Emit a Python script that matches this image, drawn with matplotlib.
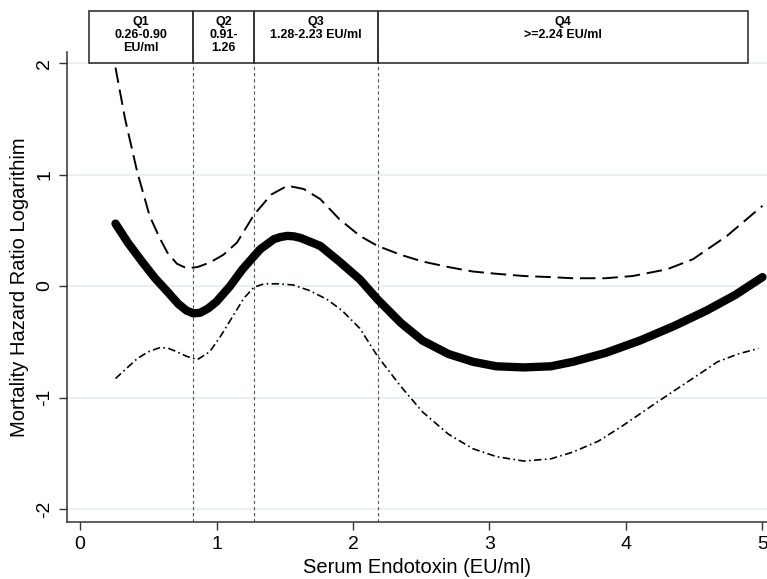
import matplotlib.pyplot as plt
from matplotlib.patches import Rectangle

# spline estimate and its confidence band
x_fit = [0.26, 0.35, 0.46, 0.55, 0.64, 0.72, 0.78, 0.83, 0.88, 0.94, 1.0, 1.1, 1.19, 1.32, 1.42, 1.47,
         1.52, 1.57, 1.62, 1.76, 1.9, 2.05, 2.18, 2.35, 2.51, 2.7, 2.88, 3.05, 3.25, 3.45, 3.61,
         3.85, 4.1, 4.35, 4.59, 4.8, 5.0]
y_fit = [0.56, 0.39, 0.21, 0.07, -0.05, -0.16, -0.22, -0.245, -0.24, -0.20, -0.14, 0.0, 0.15, 0.33, 0.42, 0.44,
         0.45, 0.445, 0.43, 0.36, 0.22, 0.06, -0.12, -0.33, -0.49, -0.61, -0.68, -0.72, -0.73, -0.72, -0.68,
         -0.60, -0.49, -0.36, -0.22, -0.08, 0.08]

x_upper = [0.26, 0.33, 0.42, 0.51, 0.58, 0.64, 0.71, 0.78, 0.86, 0.95, 1.05, 1.15, 1.275, 1.4, 1.52,
           1.64, 1.76, 1.9, 2.05, 2.18, 2.35, 2.51, 2.7, 2.88, 3.05, 3.25, 3.45, 3.61, 3.85, 4.05,
           4.3, 4.49, 4.74, 5.0]
y_upper = [1.96, 1.50, 1.02, 0.63, 0.44, 0.30, 0.20, 0.16, 0.17, 0.21, 0.28, 0.39, 0.64, 0.82, 0.90,
           0.87, 0.78, 0.60, 0.45, 0.36, 0.28, 0.22, 0.17, 0.13, 0.11, 0.09, 0.08, 0.07, 0.07, 0.09,
           0.15, 0.24, 0.45, 0.72]

x_lower = [0.26, 0.34, 0.42, 0.5, 0.59, 0.65, 0.71, 0.78, 0.86, 0.95, 1.03, 1.12, 1.2, 1.275, 1.35,
           1.45, 1.56, 1.68, 1.81, 1.92, 2.05, 2.18, 2.35, 2.51, 2.7, 2.88, 3.05, 3.25, 3.45, 3.61,
           3.8, 3.98, 4.17, 4.34, 4.5, 4.67, 4.82, 4.97]
y_lower = [-0.83, -0.74, -0.65, -0.59, -0.55, -0.56, -0.59, -0.63, -0.66, -0.59, -0.45, -0.27, -0.11, -0.01, 0.02,
           0.02, 0.01, -0.04, -0.12, -0.22, -0.38, -0.63, -0.90, -1.13, -1.33, -1.46, -1.53, -1.57, -1.55, -1.49,
           -1.39, -1.25, -1.09, -0.95, -0.82, -0.68, -0.61, -0.56]

# quartile cut points and header labels
cuts = [0.83, 1.275, 2.185]
q_edges = [0.066, 0.83, 1.275, 2.185, 4.894]
q_labels = ["Q1\n0.26-0.90\nEU/ml", "Q2\n0.91-\n1.26", "Q3\n1.28-2.23 EU/ml", "Q4\n>=2.24 EU/ml"]

x_ticks = [0, 1, 2, 3, 4, 5]
y_ticks = [-2, -1, 0, 1, 2]

plt.rcParams['font.family'] = ['Liberation Sans', 'DejaVu Sans']

fig = plt.figure(figsize=(7.67, 5.79), dpi=100)
ax = fig.add_axes([0.0874, 0.0984, 0.9126, 0.8117])
ax.set_xlim(-0.095, 5.033)
ax.set_ylim(-2.117, 2.099)

# light stata-like gridlines
for yt in y_ticks:
    ax.axhline(yt, color='#e6eef0', lw=1.2, zorder=0)

for c in cuts:
    ax.axvline(c, color='#555555', lw=0.8, dashes=(3, 2.5), zorder=1)

ax.plot(x_upper, y_upper, color='black', lw=1.4, dashes=(8, 3.5), zorder=3)
ax.plot(x_lower, y_lower, color='black', lw=1.2, dashes=(4.5, 2, 1, 2), zorder=3)
ax.plot(x_fit, y_fit, color='black', lw=6.0, solid_capstyle='round', solid_joinstyle='round', zorder=4)

# header boxes for the quartiles (sit above the plot area)
box_bot, box_top = 2.0, 2.466
for i in range(4):
    left, right = q_edges[i], q_edges[i + 1]
    ax.add_patch(Rectangle((left, box_bot), right - left, box_top - box_bot, fill=False,
                           edgecolor='#333333', lw=1.2, clip_on=False, zorder=5))
    ax.text((left + right) / 2, 2.42, q_labels[i], ha='center', va='top', fontsize=9,
            fontweight='bold', linespacing=1.12, clip_on=False)

ax.spines['top'].set_visible(False)
ax.spines['right'].set_visible(False)
for s in ['left', 'bottom']:
    ax.spines[s].set_color('#333333')
    ax.spines[s].set_linewidth(1.1)

ax.set_xticks(x_ticks)
ax.set_yticks(y_ticks)
ax.set_yticklabels([str(v) for v in y_ticks], rotation=90, va='center')
ax.tick_params(axis='both', direction='out', length=6, width=1.0, color='#333333', labelsize=14, pad=4)
ax.set_xlabel("Serum Endotoxin (EU/ml)", fontsize=14.5, labelpad=4)
ax.set_ylabel("Mortality Hazard Ratio Logarithim", fontsize=14.5, labelpad=5)

fig.savefig('out.png', dpi=100)
